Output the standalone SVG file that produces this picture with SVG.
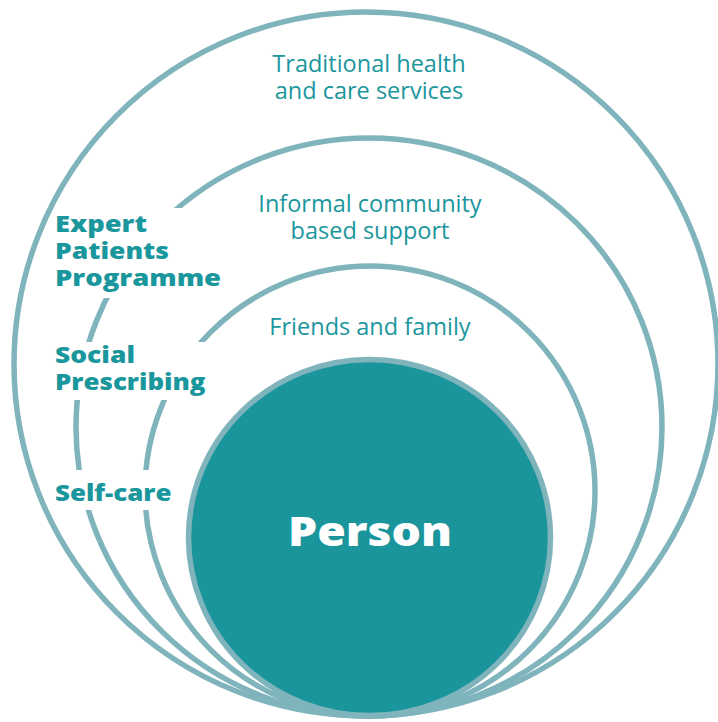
<svg xmlns="http://www.w3.org/2000/svg" width="718" height="722" viewBox="0 0 718 722">
<style>
.ring{fill:none;stroke:#7fb4bc;stroke-width:5.5}
.lbl{font-family:"Open Sans","Noto Sans","Liberation Sans",sans-serif;font-size:23.5px;fill:#1a969d;text-anchor:middle}
.side{font-family:"Open Sans","Noto Sans","Liberation Sans",sans-serif;font-size:23px;font-weight:800;fill:#1a969d}
.mask{fill:#ffffff}
</style>
<rect width="718" height="722" fill="#ffffff"/>
<g id="traditional">
<circle class="ring" cx="366" cy="364" r="352"/>
<text class="lbl" x="369" y="72">Traditional health</text>
<text class="lbl" x="369" y="99">and care services</text>
</g>
<g id="community">
<ellipse class="ring" cx="369" cy="427" rx="293" ry="289"/>
<text class="lbl" x="370" y="212">Informal community</text>
<text class="lbl" x="370" y="239">based support</text>
</g>
<g id="friends">
<circle class="ring" cx="370" cy="491" r="225"/>
<text class="lbl" x="370" y="335">Friends and family</text>
</g>
<g id="expert-patients">
<rect class="mask" x="54" y="208" width="174" height="90"/>
<text class="side" x="55" y="232" textLength="92" lengthAdjust="spacingAndGlyphs">Expert</text>
<text class="side" x="55" y="259" textLength="114" lengthAdjust="spacingAndGlyphs">Patients</text>
<text class="side" x="55" y="286" textLength="166" lengthAdjust="spacingAndGlyphs">Programme</text>
</g>
<g id="social-prescribing">
<rect class="mask" x="54" y="342" width="158" height="58"/>
<text class="side" x="55" y="363" textLength="80" lengthAdjust="spacingAndGlyphs">Social</text>
<text class="side" x="55" y="390" textLength="150.5" lengthAdjust="spacingAndGlyphs">Prescribing</text>
</g>
<g id="self-care">
<rect class="mask" x="54" y="470" width="124" height="40"/>
<text class="side" x="55" y="501" textLength="116.5" lengthAdjust="spacingAndGlyphs">Self-care</text>
</g>
<g id="person">
<ellipse cx="369.5" cy="537.5" rx="181" ry="178" fill="#1a959c" stroke="#7fb4bc" stroke-width="5.5"/>
<text x="288" y="546" font-family="'Open Sans','Noto Sans','Liberation Sans',sans-serif" font-size="41" font-weight="800" fill="#ffffff" textLength="164" lengthAdjust="spacingAndGlyphs">Person</text>
</g>
</svg>
